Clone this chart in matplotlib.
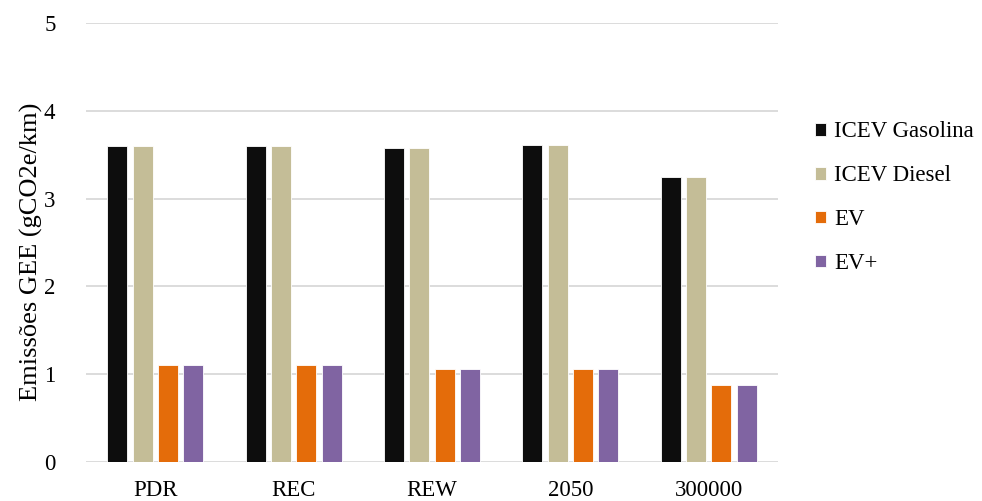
import matplotlib
matplotlib.use("Agg")
import matplotlib.pyplot as plt
import numpy as np

categories = ["PDR", "REC", "REW", "2050", "300000"]
series_names = ["ICEV Gasolina", "ICEV Diesel", "EV", "EV+"]
icev_gasolina = [3.60, 3.60, 3.58, 3.61, 3.245]
icev_diesel = [3.60, 3.60, 3.58, 3.61, 3.245]
ev = [1.105, 1.105, 1.056, 1.056, 0.875]
ev_plus = [1.105, 1.105, 1.056, 1.056, 0.875]
colors = ["#0d0d0d", "#c4bd97", "#e46c0a", "#8064a2"]
yticks = [0, 1, 2, 3, 4, 5]

plt.rcParams['font.family'] = ['Liberation Serif', 'DejaVu Serif']

fig = plt.figure(figsize=(9.82, 5.01), dpi=100)
ax = fig.add_axes([86/982, 1-462/501, (778-86)/982, (462-23)/501])

x = np.arange(len(categories))
width = 0.144
step = 0.183
data = [icev_gasolina, icev_diesel, ev, ev_plus]
for i, (vals, name, c) in enumerate(zip(data, series_names, colors)):
    ax.bar(x + (i - 1.5) * step, vals, width, color=c, label=name,
           edgecolor="white", linewidth=0.6, zorder=3)

ax.set_xlim(-0.5, len(categories) - 0.5)
ax.set_ylim(0, 5)
ax.set_yticks(yticks)
ax.set_xticks(x)
ax.set_xticklabels(categories)
ax.yaxis.grid(True, color="#d9d9d9", linewidth=1.3, zorder=0)
ax.set_axisbelow(True)
for s in ax.spines.values():
    s.set_visible(False)
ax.tick_params(axis="both", length=0, labelsize=16.5)
ax.tick_params(axis="y", pad=22)
ax.tick_params(axis="x", pad=13)
ax.set_ylabel("Emissões GEE (gCO2e/km)", fontsize=19, labelpad=1)
ax.yaxis.label.set_y(0.478)

leg = ax.legend(loc="upper left", bbox_to_anchor=(0.821, 0.776), bbox_transform=fig.transFigure,
                frameon=False, fontsize=16.5, handlelength=0.48, handleheight=0.48,
                handletextpad=0.35, labelspacing=1.0, borderaxespad=0)

fig.savefig("out.png", dpi=100)
